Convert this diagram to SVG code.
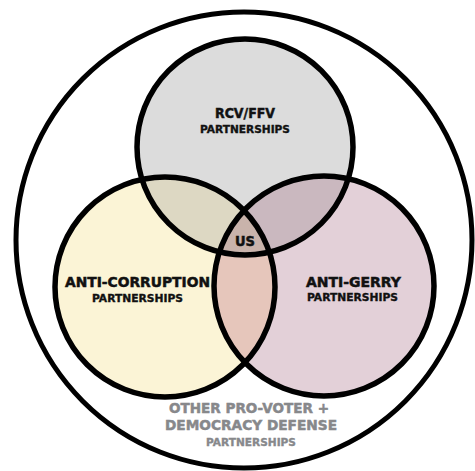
<svg xmlns="http://www.w3.org/2000/svg" width="475" height="471" viewBox="0 0 475 471">
<style>
.ring{fill:none;stroke:#000;stroke-width:5.5}
.t{font-family:"DejaVu Sans","Liberation Sans",Arial,sans-serif;font-weight:bold;text-anchor:middle;fill:#111;stroke:#111;stroke-width:0.5}
.big{font-size:13.5px}
.small{font-size:10px;stroke-width:0.35}
.gray{fill:#87888b;stroke:#87888b}
</style>
<defs>
<clipPath id="cT"><circle cx="245" cy="147" r="108"/></clipPath>
<clipPath id="cL"><circle cx="165" cy="287" r="110"/></clipPath>
<clipPath id="cR"><circle cx="324" cy="286" r="110"/></clipPath>
</defs>
<rect width="475" height="471" fill="#fff"/>
<g id="outer">
<circle cx="244" cy="240" r="228" fill="#fff" stroke="#000" stroke-width="5"/>
<text class="t big gray" x="249" y="413" textLength="160" lengthAdjust="spacingAndGlyphs">OTHER PRO-VOTER +</text>
<text class="t big gray" x="251" y="430" textLength="172" lengthAdjust="spacingAndGlyphs">DEMOCRACY DEFENSE</text>
<text class="t small gray" x="251" y="446" textLength="90" lengthAdjust="spacingAndGlyphs">PARTNERSHIPS</text>
</g>
<g id="fills">
<circle cx="245" cy="147" r="108" fill="#dcdcdc"/>
<circle cx="165" cy="287" r="110" fill="#fbf4d6"/>
<circle cx="324" cy="286" r="110" fill="#e3d0d8"/>
<g clip-path="url(#cT)"><circle cx="165" cy="287" r="110" fill="#ddd8c3"/><circle cx="324" cy="286" r="110" fill="#cab8bf"/></g>
<g clip-path="url(#cL)"><circle cx="324" cy="286" r="110" fill="#e6c6bb"/></g>
<g clip-path="url(#cL)"><g clip-path="url(#cR)"><circle cx="245" cy="147" r="108" fill="#c9b3ab"/></g></g>
</g>
<g id="rcv">
<circle class="ring" cx="245" cy="147" r="108"/>
<text class="t big" x="245" y="118" textLength="60" lengthAdjust="spacingAndGlyphs">RCV/FFV</text>
<text class="t small" x="245" y="133" textLength="90" lengthAdjust="spacingAndGlyphs">PARTNERSHIPS</text>
</g>
<g id="anticorruption">
<circle class="ring" cx="165" cy="287" r="110"/>
<text class="t big" x="137.5" y="287" textLength="145" lengthAdjust="spacingAndGlyphs">ANTI-CORRUPTION</text>
<text class="t small" x="137.5" y="302" textLength="91" lengthAdjust="spacingAndGlyphs">PARTNERSHIPS</text>
</g>
<g id="antigerry">
<circle class="ring" cx="324" cy="286" r="110"/>
<text class="t big" x="353.5" y="287" textLength="95" lengthAdjust="spacingAndGlyphs">ANTI-GERRY</text>
<text class="t small" x="352.5" y="301" textLength="91" lengthAdjust="spacingAndGlyphs">PARTNERSHIPS</text>
</g>
<g id="us">
<text class="t" style="font-size:14px" x="245" y="246" textLength="20" lengthAdjust="spacingAndGlyphs">US</text>
</g>
</svg>
